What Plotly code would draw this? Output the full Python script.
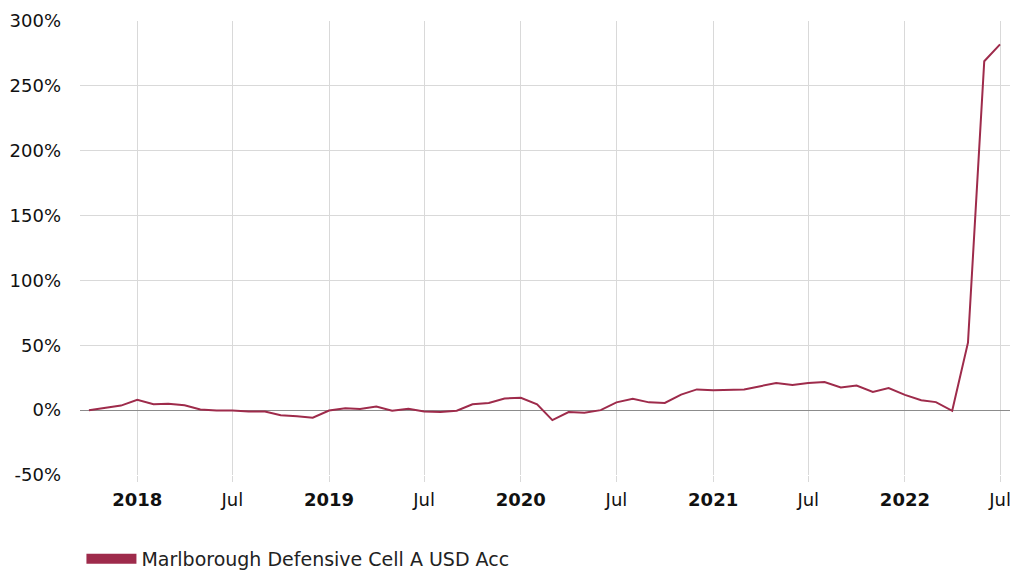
import plotly.graph_objects as go

months = [
    "2017-10-01", "2017-11-01", "2017-12-01",
    "2018-01-01", "2018-02-01", "2018-03-01", "2018-04-01", "2018-05-01", "2018-06-01",
    "2018-07-01", "2018-08-01", "2018-09-01", "2018-10-01", "2018-11-01", "2018-12-01",
    "2019-01-01", "2019-02-01", "2019-03-01", "2019-04-01", "2019-05-01", "2019-06-01",
    "2019-07-01", "2019-08-01", "2019-09-01", "2019-10-01", "2019-11-01", "2019-12-01",
    "2020-01-01", "2020-02-01", "2020-03-01", "2020-04-01", "2020-05-01", "2020-06-01",
    "2020-07-01", "2020-08-01", "2020-09-01", "2020-10-01", "2020-11-01", "2020-12-01",
    "2021-01-01", "2021-02-01", "2021-03-01", "2021-04-01", "2021-05-01", "2021-06-01",
    "2021-07-01", "2021-08-01", "2021-09-01", "2021-10-01", "2021-11-01", "2021-12-01",
    "2022-01-01", "2022-02-01", "2022-03-01", "2022-04-01", "2022-05-01", "2022-06-01",
    "2022-07-01",
]
returns_pct = [
    0.0, 1.8, 3.5,
    8.0, 4.5, 5.0, 3.8, 0.5, -0.3, -0.3, -1.0, -1.0, -4.0, -4.8, -5.8,
    -0.3, 1.5, 0.8, 2.8, -0.5, 1.0, -1.0, -1.5, -0.5, 4.5, 5.5, 9.0,
    9.5, 4.5, -7.7, -1.5, -2.0, 0.0, 6.0, 8.7, 6.0, 5.5, 12.0, 16.0,
    15.4, 16.0, 16.0, 18.5, 21.0, 19.3, 21.0, 21.6, 17.5, 19.0, 14.0, 17.0,
    11.8, 7.7, 6.2, -0.5, 52.0, 269.0, 282.0,
]
series_name = "Marlborough Defensive Cell A USD Acc"

x_tick_vals = ["2018-01-01", "2018-07-01", "2019-01-01", "2019-07-01", "2020-01-01",
               "2020-07-01", "2021-01-01", "2021-07-01", "2022-01-01", "2022-07-01"]
x_tick_text = ["<b>2018</b>", "Jul", "<b>2019</b>", "Jul", "<b>2020</b>", "Jul",
               "<b>2021</b>", "Jul", "<b>2022</b>", "Jul"]
y_tick_vals = [-50, 0, 50, 100, 150, 200, 250, 300]
y_tick_text = ["-50%", "0%", "50%", "100%", "150%", "200%", "250%", "300%"]

color = "#9e2b4b"
fam = "DejaVu Sans, Verdana, sans-serif"

fig = go.Figure()
fig.add_trace(go.Scatter(
    x=months, y=returns_pct, mode="lines",
    line=dict(color=color, width=2), showlegend=False,
    hovertemplate="%{x|%b %Y}: %{y:.1f}%<extra></extra>",
))
fig.add_trace(go.Scatter(
    x=[None], y=[None], mode="lines", name=series_name,
    line=dict(color=color, width=10), showlegend=True,
))

fig.update_layout(
    width=1020, height=562,
    margin=dict(l=72, r=18, t=13, b=95, autoexpand=False),
    paper_bgcolor="white", plot_bgcolor="white",
    font=dict(family=fam, size=17, color="#111111"),
    showlegend=True,
    legend=dict(
        orientation="h", xref="container", yref="paper",
        x=0.072, y=-0.185, xanchor="left", yanchor="middle",
        font=dict(family=fam, size=19, color="#222222"),
        itemwidth=50,
    ),
    xaxis=dict(
        type="date", automargin=False,
        range=["2017-09-14", "2022-07-20"],
        tickvals=x_tick_vals, ticktext=x_tick_text,
        showgrid=True, gridcolor="#d9d9d9", gridwidth=1,
        ticks="outside", ticklen=6, tickcolor="#d9d9d9",
        ticklabelstandoff=2,
        showline=False, zeroline=False,
        tickfont=dict(family=fam, size=18, color="#111111"),
    ),
    yaxis=dict(
        automargin=False,
        range=[-50, 300],
        tickvals=y_tick_vals, ticktext=y_tick_text,
        showgrid=True, gridcolor="#d9d9d9", gridwidth=1,
        zeroline=True, zerolinecolor="#8c8c8c", zerolinewidth=1,
        showline=False, ticks="", ticklabelstandoff=18,
        tickfont=dict(family=fam, size=18, color="#111111"),
    ),
)

fig.write_html("out.html")
